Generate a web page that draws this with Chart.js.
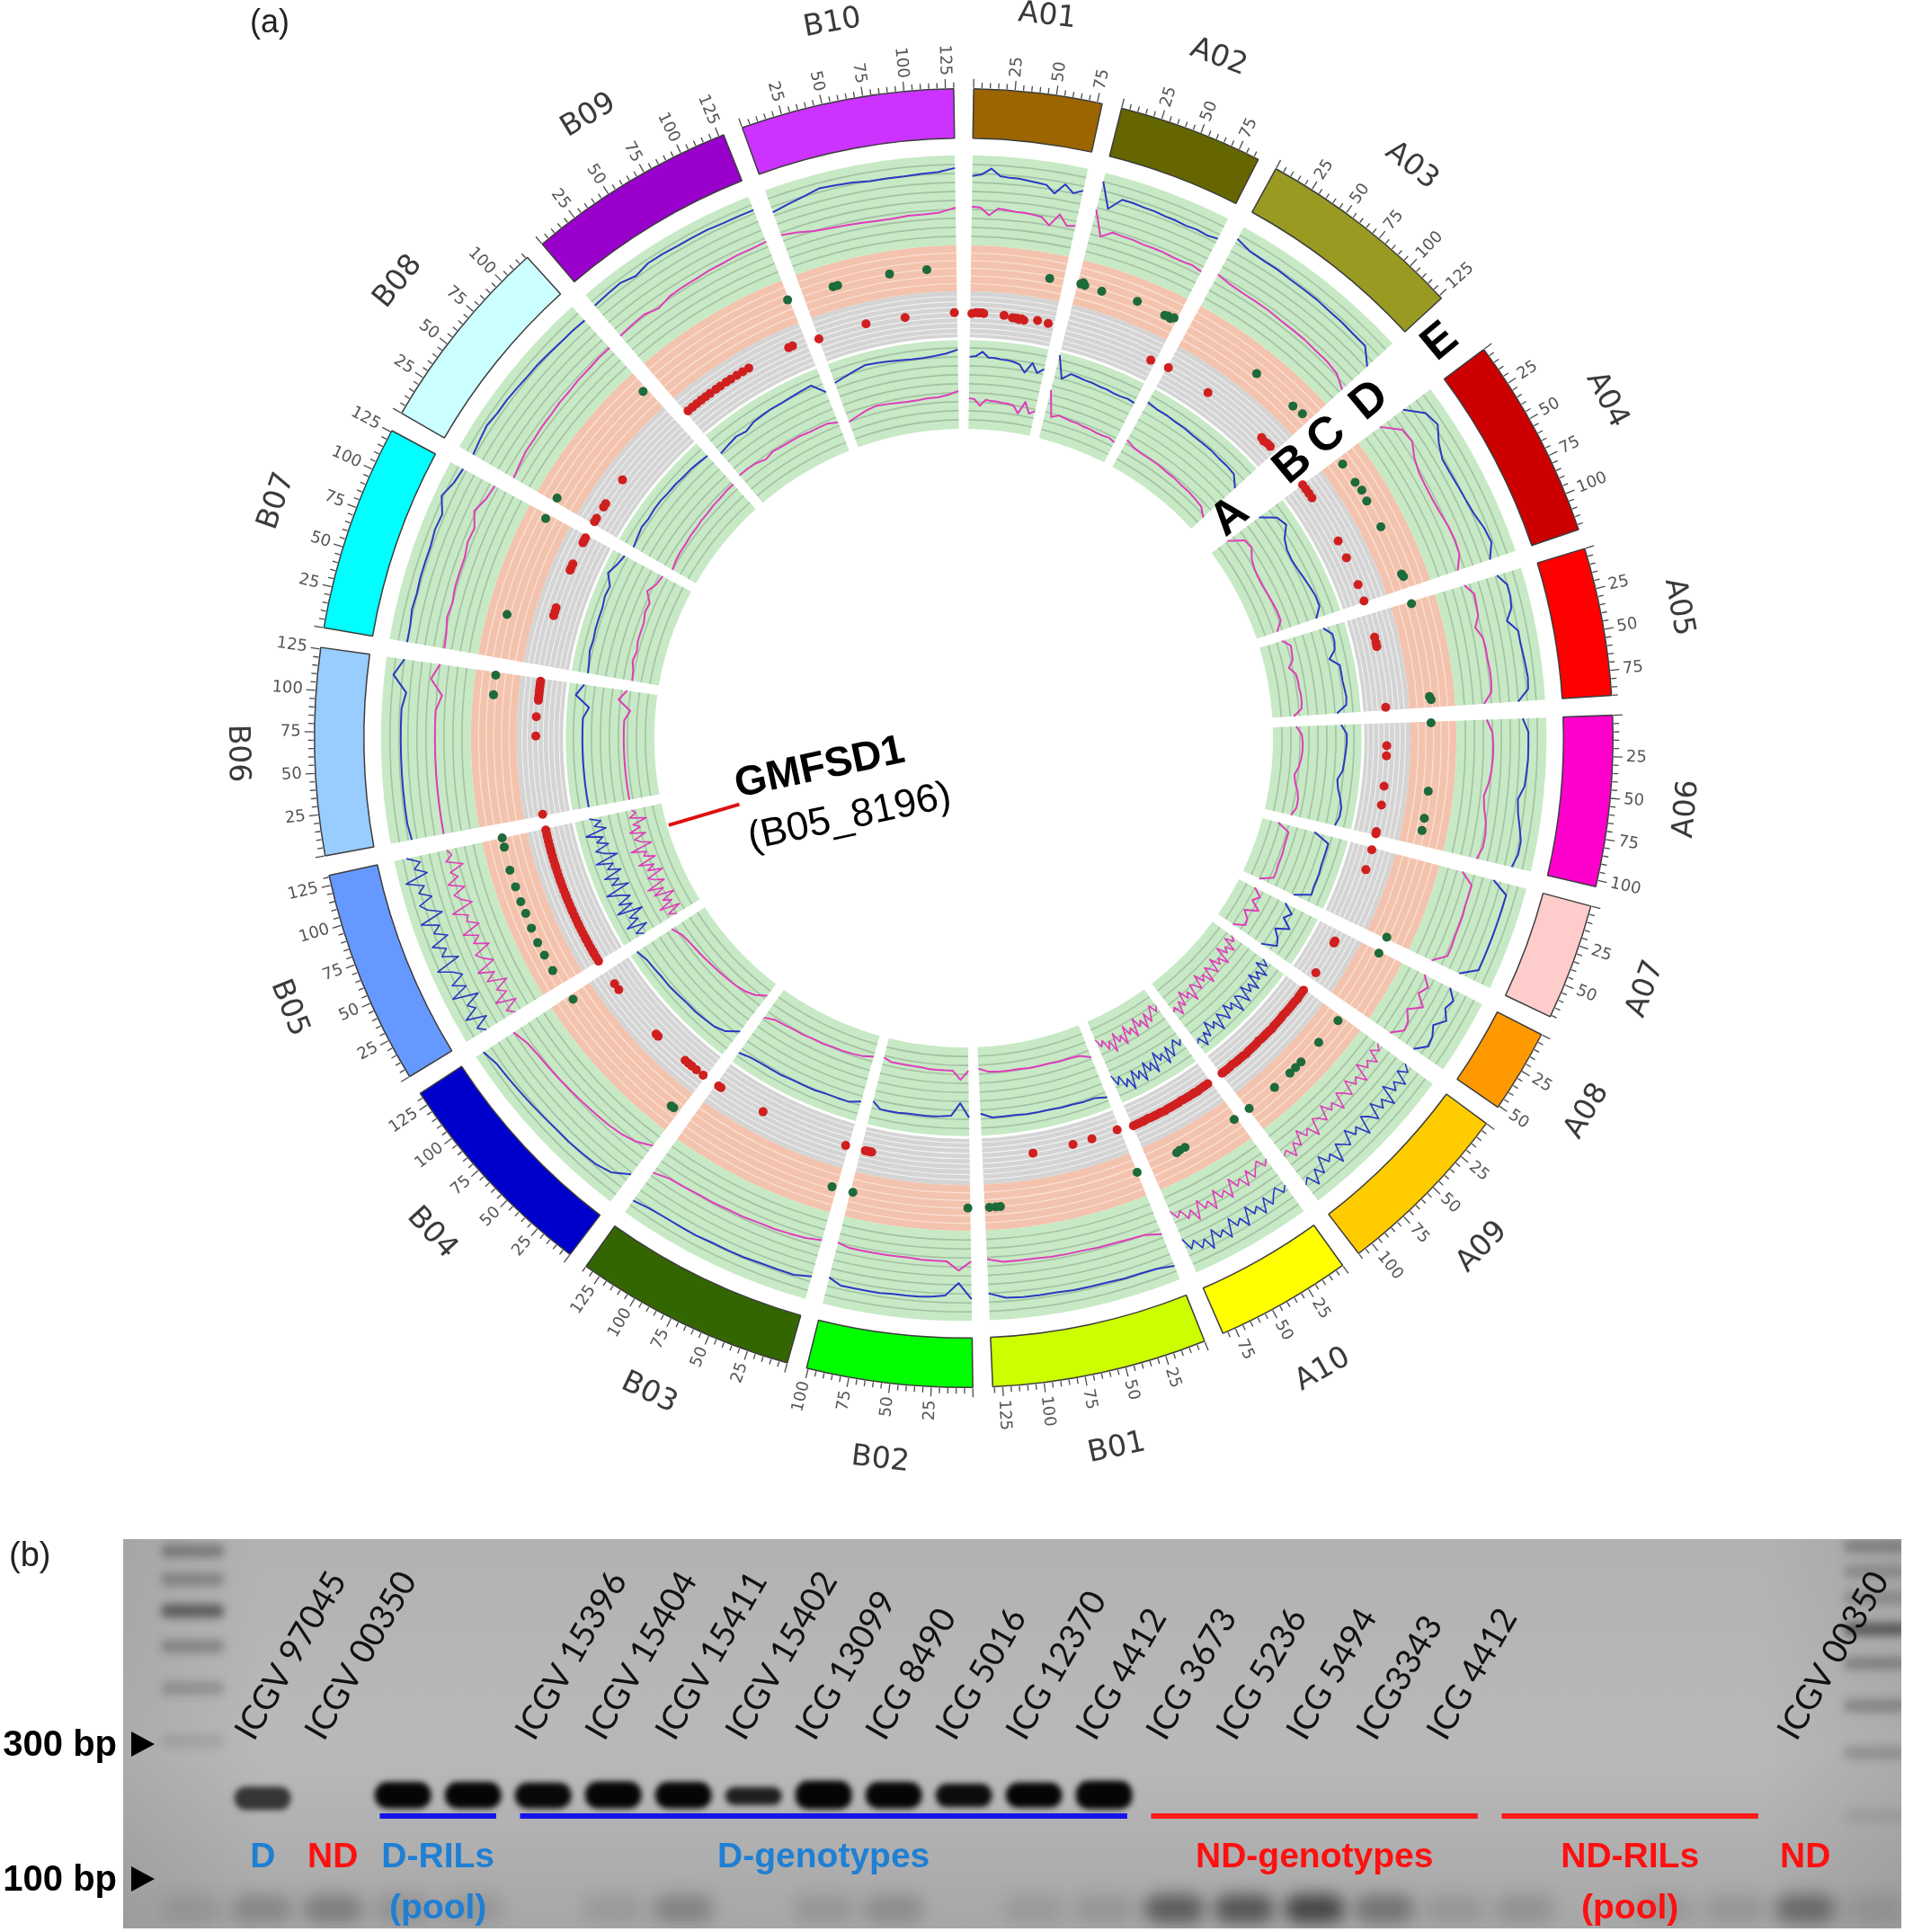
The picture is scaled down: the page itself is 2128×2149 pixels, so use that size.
<!DOCTYPE html>
<html lang="en">
<head>
<meta charset="UTF-8">
<title>Circos plot and gel</title>
<script src="https://cdn.jsdelivr.net/npm/chart.js@4.4.0/dist/chart.umd.min.js"></script>
<style>
  html, body { margin: 0; padding: 0; background: #fff; }
  #page { position: relative; width: 2128px; height: 2149px; }
  #circosBox { position: absolute; left: 0; top: 0; width: 2128px; height: 1700px; }
  #gelBox { position: absolute; left: 0; top: 1700px; width: 2128px; height: 449px; }
</style>
</head>
<body>
<div id="page">
  <div id="circosBox"><canvas id="circos"></canvas></div>
  <div id="gelBox"><canvas id="gel"></canvas></div>
</div>
<script>
// ---------- (a) circos data ----------
var chromNames = ['A01','A02','A03','A04','A05','A06','A07','A08','A09','A10','B01','B02','B03','B04','B05','B06','B07','B08','B09','B10'];
var chromLengths = [78, 88, 127, 123, 90, 104, 71, 51, 110, 83, 131, 101, 135, 133, 131, 126, 126, 121, 128, 130];
var chromColors = ['#9c6500','#666600','#999a22','#cc0000','#ff0000','#ff00cc','#ffcccc','#ff9900','#ffcc00','#ffff00',
                   '#ccff00','#00ff00','#336600','#0000cc','#6699ff','#99ccff','#00ffff','#ccffff','#9900cc','#cc33ff'];

// line tracks, value = fraction of the band height, windows spread along each chromosome
var outerBlue = {
  A01: [0.77,0.79,0.86,0.78,0.77,0.77,0.76,0.75,0.74,0.66,0.78,0.70,0.75],
  A02: [0.90,0.62,0.76,0.76,0.75,0.75,0.74,0.74,0.73,0.74,0.73,0.75],
  A03: [0.85,0.80,0.79,0.79,0.78,0.78,0.78,0.77,0.77,0.76,0.76,0.62],
  A04: [0.62,0.80,0.84,0.74,0.68,0.68,0.69,0.70,0.72,0.76,0.78,0.70],
  A05: [0.72,0.80,0.80,0.78,0.70,0.80,0.80,0.81,0.82,0.83,0.82,0.70],
  A06: [0.74,0.80,0.80,0.80,0.79,0.78,0.72,0.74,0.78,0.82,0.82,0.78],
  A07: [0.62,0.80,0.80,0.80,0.80,0.80,0.80,0.80,0.80,0.62],
  A08: [0.60,0.70,0.66,0.74,0.64,0.70,0.72,0.60],
  A09: [0.62,0.70,0.60,0.76,0.64,0.72,0.58,0.80,0.66,0.74,0.60,0.78,0.68,0.62,0.82,0.66,0.72,0.60,0.76,0.70,0.64,0.84,0.68,0.74,0.62,0.80,0.70,0.86,0.72,0.78],
  A10: [0.64,0.70,0.60,0.66,0.74,0.62,0.78,0.66,0.72,0.60,0.80,0.68,0.74,0.62,0.82,0.70,0.76,0.64,0.84,0.70,0.78,0.66,0.74,0.60],
  B01: [0.84,0.80,0.79,0.79,0.78,0.78,0.78,0.77,0.77,0.77,0.76,0.70],
  B02: [0.76,0.58,0.72,0.74,0.75,0.75,0.75,0.76,0.76,0.76,0.76,0.70],
  B03: [0.74,0.78,0.78,0.78,0.79,0.79,0.79,0.80,0.80,0.80,0.81,0.84],
  B04: [0.62,0.74,0.78,0.79,0.80,0.80,0.81,0.82,0.83,0.84,0.85,0.90],
  B05: [0.74,0.82,0.66,0.88,0.72,0.79,0.62,0.90,0.70,0.84,0.68,0.77,0.92,0.64,0.81,0.73,0.87,0.66,0.80,0.71,0.90,0.63,0.78,0.85,0.69,0.82,0.74,0.93,0.67,0.80,0.72,0.86],
  B06: [0.76,0.78,0.78,0.78,0.78,0.78,0.78,0.78,0.78,0.74,0.90,0.80],
  B07: [0.80,0.80,0.82,0.81,0.82,0.82,0.82,0.84,0.83,0.92,0.86,0.84],
  B08: [0.82,0.84,0.86,0.84,0.84,0.83,0.82,0.82,0.81,0.80,0.80,0.79],
  B09: [0.84,0.85,0.86,0.82,0.86,0.86,0.85,0.85,0.85,0.84,0.84,0.84],
  B10: [0.74,0.77,0.80,0.84,0.83,0.82,0.80,0.80,0.80,0.81,0.82,0.86]
};
var outerPink = {
  A01: [0.43,0.42,0.34,0.42,0.41,0.40,0.40,0.39,0.38,0.30,0.44,0.33,0.35],
  A02: [0.58,0.30,0.38,0.37,0.37,0.36,0.36,0.36,0.35,0.35,0.36,0.34],
  A03: [0.40,0.37,0.36,0.36,0.36,0.35,0.35,0.35,0.34,0.34,0.32,0.24],
  A04: [0.30,0.48,0.50,0.42,0.38,0.37,0.37,0.38,0.40,0.41,0.40,0.32],
  A05: [0.34,0.42,0.41,0.40,0.34,0.40,0.41,0.41,0.42,0.42,0.41,0.32],
  A06: [0.34,0.40,0.41,0.41,0.40,0.38,0.34,0.36,0.40,0.42,0.42,0.38],
  A07: [0.26,0.40,0.40,0.40,0.41,0.41,0.41,0.42,0.42,0.28],
  A08: [0.28,0.38,0.32,0.44,0.30,0.38,0.40,0.28],
  A09: [0.24,0.30,0.22,0.36,0.26,0.32,0.20,0.40,0.28,0.34,0.22,0.38,0.30,0.24,0.42,0.28,0.34,0.22,0.38,0.30,0.26,0.44,0.30,0.36,0.24,0.40,0.32,0.46,0.34,0.38],
  A10: [0.28,0.34,0.24,0.30,0.38,0.26,0.42,0.30,0.36,0.24,0.44,0.32,0.38,0.26,0.46,0.34,0.40,0.28,0.48,0.34,0.42,0.30,0.36,0.26],
  B01: [0.46,0.40,0.39,0.38,0.38,0.37,0.37,0.37,0.36,0.36,0.36,0.32],
  B02: [0.34,0.44,0.34,0.34,0.34,0.33,0.33,0.33,0.33,0.33,0.33,0.30],
  B03: [0.32,0.35,0.36,0.37,0.37,0.38,0.38,0.39,0.39,0.40,0.41,0.46],
  B04: [0.22,0.30,0.34,0.36,0.37,0.38,0.39,0.40,0.41,0.42,0.44,0.50],
  B05: [0.36,0.44,0.28,0.50,0.33,0.42,0.26,0.47,0.35,0.52,0.30,0.40,0.46,0.27,0.43,0.34,0.50,0.29,0.41,0.37,0.53,0.28,0.39,0.45,0.31,0.48,0.35,0.42,0.26,0.44,0.36,0.40],
  B06: [0.40,0.40,0.40,0.40,0.40,0.40,0.40,0.40,0.40,0.34,0.48,0.40],
  B07: [0.38,0.39,0.42,0.40,0.42,0.42,0.42,0.45,0.44,0.52,0.46,0.44],
  B08: [0.30,0.32,0.34,0.34,0.35,0.35,0.36,0.36,0.37,0.37,0.38,0.38],
  B09: [0.40,0.41,0.42,0.38,0.42,0.43,0.43,0.44,0.44,0.45,0.45,0.46],
  B10: [0.47,0.44,0.40,0.38,0.37,0.36,0.35,0.35,0.36,0.36,0.37,0.42]
};
var innerBlue = {
  A01: [0.80,0.81,0.86,0.80,0.80,0.79,0.79,0.78,0.76,0.68,0.80,0.70,0.76],
  A02: [0.95,0.70,0.78,0.77,0.76,0.76,0.75,0.75,0.74,0.74,0.75,0.74],
  A03: [0.82,0.80,0.80,0.79,0.79,0.78,0.78,0.78,0.77,0.77,0.76,0.66],
  A04: [0.66,0.82,0.86,0.76,0.72,0.71,0.72,0.74,0.76,0.78,0.78,0.70],
  A05: [0.74,0.82,0.82,0.80,0.72,0.82,0.82,0.82,0.83,0.84,0.83,0.72],
  A06: [0.76,0.82,0.82,0.81,0.80,0.79,0.74,0.76,0.80,0.83,0.83,0.80],
  A07: [0.60,0.78,0.78,0.78,0.78,0.79,0.79,0.79,0.80,0.62],
  A08: [0.58,0.70,0.64,0.76,0.62,0.70,0.74,0.58],
  A09: [0.70,0.78,0.66,0.84,0.72,0.80,0.68,0.86,0.74,0.82,0.70,0.88,0.76,0.72,0.90,0.74,0.80,0.70,0.86,0.78,0.72,0.90,0.76,0.82,0.70,0.86,0.78,0.92,0.80,0.84],
  A10: [0.68,0.74,0.64,0.70,0.80,0.66,0.84,0.70,0.76,0.64,0.86,0.72,0.80,0.68,0.88,0.74,0.82,0.70,0.90,0.76,0.84,0.70,0.78,0.66],
  B01: [0.86,0.82,0.82,0.81,0.81,0.80,0.80,0.80,0.79,0.79,0.79,0.74],
  B02: [0.78,0.62,0.76,0.77,0.78,0.78,0.78,0.78,0.79,0.79,0.79,0.72],
  B03: [0.76,0.80,0.80,0.80,0.81,0.81,0.81,0.82,0.82,0.82,0.83,0.86],
  B04: [0.66,0.76,0.80,0.81,0.82,0.82,0.83,0.84,0.84,0.85,0.86,0.90],
  B05: [0.72,0.80,0.64,0.86,0.70,0.78,0.60,0.88,0.68,0.82,0.66,0.76,0.90,0.62,0.80,0.70,0.85,0.64,0.78,0.70,0.88,0.62,0.76,0.84,0.68,0.80,0.72,0.90,0.66,0.78,0.70,0.82],
  B06: [0.80,0.80,0.80,0.80,0.80,0.80,0.80,0.80,0.80,0.74,0.90,0.82],
  B07: [0.80,0.81,0.83,0.82,0.83,0.83,0.83,0.85,0.84,0.92,0.87,0.84],
  B08: [0.80,0.82,0.84,0.83,0.84,0.84,0.83,0.83,0.82,0.82,0.81,0.80],
  B09: [0.72,0.74,0.76,0.74,0.78,0.79,0.80,0.80,0.81,0.82,0.83,0.70],
  B10: [0.76,0.79,0.82,0.85,0.84,0.83,0.82,0.81,0.81,0.82,0.84,0.88]
};
var innerPink = {
  A01: [0.34,0.33,0.26,0.33,0.32,0.32,0.31,0.31,0.30,0.22,0.36,0.24,0.28],
  A02: [0.55,0.26,0.30,0.29,0.28,0.28,0.27,0.27,0.26,0.26,0.27,0.25],
  A03: [0.34,0.30,0.29,0.29,0.29,0.28,0.28,0.27,0.27,0.26,0.25,0.18],
  A04: [0.22,0.38,0.40,0.33,0.30,0.29,0.29,0.30,0.31,0.32,0.32,0.24],
  A05: [0.26,0.34,0.33,0.32,0.26,0.32,0.33,0.33,0.34,0.34,0.33,0.24],
  A06: [0.26,0.32,0.33,0.33,0.32,0.30,0.26,0.28,0.32,0.34,0.34,0.30],
  A07: [0.18,0.32,0.32,0.32,0.33,0.33,0.33,0.34,0.34,0.20],
  A08: [0.20,0.30,0.24,0.36,0.22,0.30,0.32,0.20],
  A09: [0.26,0.32,0.22,0.38,0.28,0.34,0.22,0.42,0.30,0.36,0.24,0.40,0.32,0.26,0.44,0.30,0.36,0.24,0.40,0.32,0.28,0.46,0.32,0.38,0.26,0.42,0.34,0.48,0.36,0.40],
  A10: [0.22,0.28,0.18,0.26,0.34,0.22,0.38,0.26,0.32,0.20,0.40,0.28,0.34,0.22,0.42,0.30,0.36,0.24,0.44,0.30,0.38,0.26,0.32,0.22],
  B01: [0.38,0.32,0.31,0.31,0.30,0.30,0.30,0.29,0.29,0.29,0.28,0.24],
  B02: [0.26,0.36,0.26,0.26,0.26,0.26,0.25,0.25,0.25,0.25,0.25,0.22],
  B03: [0.24,0.27,0.28,0.29,0.29,0.30,0.30,0.31,0.31,0.32,0.33,0.38],
  B04: [0.16,0.24,0.28,0.30,0.31,0.32,0.33,0.34,0.35,0.36,0.38,0.44],
  B05: [0.30,0.38,0.22,0.44,0.27,0.36,0.20,0.42,0.29,0.46,0.24,0.34,0.40,0.21,0.37,0.28,0.44,0.23,0.35,0.31,0.47,0.22,0.33,0.39,0.25,0.42,0.29,0.36,0.20,0.38,0.30,0.34],
  B06: [0.34,0.34,0.34,0.34,0.34,0.34,0.34,0.34,0.34,0.28,0.42,0.34],
  B07: [0.30,0.31,0.34,0.32,0.34,0.34,0.34,0.37,0.36,0.44,0.38,0.36],
  B08: [0.30,0.32,0.33,0.33,0.34,0.34,0.35,0.35,0.36,0.36,0.37,0.37],
  B09: [0.40,0.40,0.39,0.36,0.39,0.38,0.38,0.38,0.37,0.37,0.37,0.34],
  B10: [0.30,0.33,0.36,0.38,0.37,0.36,0.35,0.35,0.36,0.36,0.38,0.42]
};

// dot tracks: [relative position along chromosome, value within band]
var greenDots = {
  A01: [[0.85,0.45]],
  A02: [[0.03,0.48],[0.05,0.52],[0.07,0.47],[0.24,0.45],[0.59,0.5],[0.88,0.46],[0.91,0.48],[0.94,0.45],[0.97,0.5]],
  A03: [[0.54,0.45],[0.86,0.45],[0.94,0.48]],
  A04: [[0.05,0.45],[0.2,0.45],[0.27,0.48],[0.35,0.45],[0.55,0.45],[0.9,0.45],[0.92,0.47]],
  A05: [[0.02,0.45],[0.9,0.45],[0.93,0.48]],
  A06: [[0.01,0.45],[0.56,0.45],[0.78,0.45],[0.88,0.45]],
  A07: [[0.98,0.45]],
  A08: [[0.03,0.45]],
  A09: [[0.04,0.48],[0.26,0.45],[0.46,0.45],[0.52,0.45],[0.58,0.45],[0.74,0.45],[0.99,0.45]],
  A10: [[0.03,0.45],[0.6,0.4],[0.66,0.4],[0.7,0.42]],
  B01: [[0.0,0.45],[0.9,0.5],[0.93,0.5],[0.97,0.5]],
  B02: [[0.02,0.5],[0.98,0.45]],
  B03: [[0.03,0.45]],
  B04: [[0.04,0.5],[0.06,0.5],[0.97,0.5]],
  B05: [[0.1,0.55],[0.21,0.55],[0.3,0.56],[0.4,0.55],[0.5,0.54],[0.58,0.55],[0.68,0.55],[0.79,0.56],[0.94,0.55],[1.0,0.55]],
  B06: [[0.85,0.55],[0.98,0.55]],
  B07: [[0.29,0.57],[0.97,0.55]],
  B08: [[0.03,0.55],[0.97,0.55]],
  B09: [[0.99,0.55]],
  B10: [[0.2,0.5],[0.23,0.5],[0.57,0.5],[0.81,0.5]]
};
var redDots = {
  A01: [[0.02,0.53],[0.07,0.55],[0.1,0.55],[0.12,0.55],[0.14,0.55],[0.16,0.54],[0.4,0.53],[0.5,0.5],[0.53,0.5],[0.56,0.5],[0.58,0.48],[0.61,0.5],[0.64,0.48],[0.8,0.52],[0.93,0.5]],
  A02: [[0.95,0.47]],
  A03: [[0.01,0.5],[0.35,0.5],[0.86,0.5],[0.89,0.48],[0.92,0.5],[0.95,0.5]],
  A04: [[0.0,0.5],[0.04,0.5],[0.08,0.5],[0.12,0.5],[0.5,0.5],[0.64,0.5],[0.86,0.5],[0.99,0.5]],
  A05: [[0.24,0.5],[0.3,0.5],[0.34,0.5],[0.97,0.5]],
  A06: [[0.2,0.5],[0.29,0.5],[0.56,0.5],[0.73,0.5],[0.97,0.5],[0.99,0.5]],
  A07: [[0.03,0.5],[0.3,0.5]],
  A08: [[0.2,0.5],[0.24,0.5],[0.87,0.5]],
  A09: [[0.01,0.5],[0.04,0.5],[0.07,0.5],[0.1,0.51],[0.13,0.5],[0.16,0.5],[0.19,0.5],[0.22,0.5],[0.25,0.5],[0.28,0.49],[0.31,0.5],[0.34,0.5],[0.37,0.5],[0.4,0.5],[0.43,0.51],[0.46,0.5],[0.49,0.5],[0.52,0.5],[0.55,0.5],[0.58,0.49],[0.61,0.5],[0.64,0.5],[0.67,0.5],[0.7,0.5],[0.73,0.51],[0.76,0.5],[0.79,0.5],[0.82,0.5],[0.85,0.5],[0.88,0.49],[0.91,0.5],[0.94,0.5],[0.97,0.5],[0.99,0.5]],
  A10: [[0.04,0.5],[0.08,0.5],[0.11,0.5],[0.15,0.5],[0.18,0.51],[0.22,0.5],[0.25,0.5],[0.29,0.5],[0.32,0.5],[0.36,0.5],[0.39,0.49],[0.43,0.5],[0.46,0.5],[0.5,0.5],[0.53,0.5],[0.57,0.5],[0.6,0.51],[0.64,0.5],[0.67,0.5],[0.71,0.5],[0.74,0.5],[0.78,0.5],[0.81,0.49],[0.85,0.5],[0.88,0.5],[0.92,0.5],[0.95,0.5],[0.99,0.5]],
  B01: [[0.02,0.45],[0.21,0.45],[0.35,0.45],[0.64,0.45]],
  B02: [[0.9,0.52],[0.92,0.52],[0.94,0.52],[0.96,0.52]],
  B03: [[0.02,0.52],[0.63,0.52],[0.96,0.55],[0.98,0.55]],
  B04: [[0.02,0.56],[0.08,0.56],[0.12,0.56],[0.15,0.56],[0.18,0.56],[0.43,0.58],[0.45,0.58],[0.85,0.58],[0.9,0.58]],
  B05: [[0.0,0.6],[0.03,0.6],[0.06,0.6],[0.08,0.6],[0.11,0.6],[0.14,0.6],[0.17,0.6],[0.19,0.6],[0.22,0.6],[0.25,0.6],[0.28,0.6],[0.3,0.6],[0.33,0.6],[0.36,0.6],[0.39,0.6],[0.41,0.6],[0.44,0.6],[0.47,0.6],[0.5,0.6],[0.52,0.6],[0.55,0.6],[0.58,0.6],[0.61,0.6],[0.63,0.6],[0.66,0.6],[0.69,0.6],[0.72,0.6],[0.74,0.6],[0.77,0.6],[0.8,0.6],[0.83,0.6],[0.85,0.6],[0.88,0.6],[0.91,0.6],[0.94,0.6],[0.96,0.6],[0.99,0.6]],
  B06: [[0.01,0.6],[0.58,0.6],[0.72,0.6],[0.84,0.58],[0.86,0.58],[0.88,0.58],[0.9,0.58],[0.92,0.58],[0.94,0.58],[0.96,0.58],[0.98,0.58]],
  B07: [[0.37,0.6],[0.4,0.6],[0.43,0.6],[0.72,0.6],[0.74,0.6],[0.77,0.6],[0.94,0.6],[0.96,0.6],[0.98,0.6]],
  B08: [[0.02,0.6],[0.05,0.6],[0.15,0.6],[0.18,0.6],[0.4,0.6]],
  B09: [[0.02,0.6],[0.06,0.6],[0.1,0.6],[0.14,0.6],[0.18,0.6],[0.22,0.6],[0.27,0.6],[0.31,0.6],[0.36,0.6],[0.4,0.6],[0.45,0.6],[0.5,0.6],[0.55,0.6],[0.87,0.6],[0.9,0.6]],
  B10: [[0.0,0.53],[0.35,0.55],[0.63,0.53],[0.98,0.55]]
};
var trackLetters = ['A', 'B', 'C', 'D', 'E'];
var markerChrom = 'B05', markerPos = 0.78, markerName = 'GMFSD1', markerId = '(B05_8196)';

// ---------- (b) gel data ----------
var laneLabels = ['', 'ICGV 97045', 'ICGV 00350', '', '', 'ICGV 15396', 'ICGV 15404', 'ICGV 15411', 'ICGV 15402',
                  'ICG 13099', 'ICG 8490', 'ICG 5016', 'ICG 12370', 'ICG 4412', 'ICG 3673', 'ICG 5236', 'ICG 5494',
                  'ICG3343', 'ICG 4412', '', '', '', '', 'ICGV 00350', ''];
var ampLane  = [1, 3, 4, 5, 6, 7, 8, 9, 10, 11, 12, 13];
var ampLow   = [176, 178, 178, 178, 178, 178, 183, 177, 178, 180, 179, 177];
var ampHigh  = [212, 220, 220, 219, 221, 220, 211, 222, 220, 217, 219, 222];
var ampShade = [0.72, 1, 1, 0.98, 1, 1, 0.85, 1, 1, 0.96, 1, 1];
var dimerLane  = [0, 1, 2, 3, 4, 6, 7, 9, 10, 12, 13, 14, 15, 16, 17, 18, 19, 21, 22, 23, 24];
var dimerShade = [0.1, 0.22, 0.28, 0.15, 0.12, 0.1, 0.25, 0.12, 0.18, 0.1, 0.12, 0.5, 0.55, 0.65, 0.35, 0.12, 0.15, 0.1, 0.12, 0.4, 0.1];
var ladderLeftBp = [1450, 1150, 890, 666, 473, 307];
var ladderLeftShade = [0.3, 0.26, 0.5, 0.26, 0.2, 0.1];
var ladderRightBp = [1507, 1227, 991, 767, 580, 411, 279, 167];
var ladderRightShade = [0.26, 0.2, 0.2, 0.5, 0.26, 0.24, 0.18, 0.08];
var groupNames = ['D', 'ND', 'D-RILs\n(pool)', 'D-genotypes', 'ND-genotypes', 'ND-RILs\n(pool)', 'ND'];
var groupFirst = [1, 2, 3, 5, 14, 19, 23];
var groupLast  = [1, 2, 4, 13, 18, 22, 23];
var groupDrought = [true, false, true, true, false, false, false];
var groupLine = [false, false, true, true, true, true, false];
var sizeMarkers = [300, 100];

// ---------- circos chart ----------
var GAP = 12, BIG_GAP = 40, EDGE_GAP = 6;
function ringSlices() {
  var d = [EDGE_GAP];
  chromLengths.forEach(function (len, i) {
    d.push(len);
    if (i < chromLengths.length - 1) d.push(i === 2 ? BIG_GAP : GAP);
  });
  d.push(EDGE_GAP);
  return d;
}
function ringColors(fill) {
  var c = ['rgba(0,0,0,0)'];
  chromNames.forEach(function (n, i) {
    c.push(typeof fill === 'string' ? fill : fill[i]);
    c.push('rgba(0,0,0,0)');
  });
  return c;
}
function ring(fill, weight, border) {
  return {
    data: ringSlices(),
    backgroundColor: ringColors(fill),
    weight: weight,
    borderColor: '#3c3c3c',
    borderWidth: function (c) { return border && c.dataIndex % 2 === 1 ? 1.5 : 0; }
  };
}

var BLUE = '#2b38c2', PINK = '#e03cbc', RED = '#d01f1f', DGREEN = '#1d6a3a';

var circosDecor = {
  id: 'circosDecor',
  afterDatasetsDraw: function (chart) {
    var ctx = chart.ctx;
    function seg(ds, i) { return chart.getDatasetMeta(ds).data[1 + 2 * i]; }
    function ang(el, f) { return el.startAngle + f * (el.endAngle - el.startAngle); }
    function rad(el, v) { return el.innerRadius + v * (el.outerRadius - el.innerRadius); }
    function xy(el, a, r) { return [el.x + r * Math.cos(a), el.y + r * Math.sin(a)]; }
    function track(el, vals, color, w) {
      if (!vals) return;
      ctx.beginPath();
      vals.forEach(function (v, k) {
        var p = xy(el, ang(el, k / (vals.length - 1)), rad(el, v));
        if (k) ctx.lineTo(p[0], p[1]); else ctx.moveTo(p[0], p[1]);
      });
      ctx.strokeStyle = color; ctx.lineWidth = w; ctx.lineJoin = 'round'; ctx.stroke();
    }
    function dots(el, list, color) {
      if (!list) return;
      ctx.fillStyle = color;
      list.forEach(function (d) {
        var p = xy(el, ang(el, d[0]), rad(el, d[1]));
        ctx.beginPath(); ctx.arc(p[0], p[1], 5, 0, Math.PI * 2); ctx.fill();
      });
    }

    ctx.save();
    chromNames.forEach(function (name, i) {
      [[2, 10, 'rgba(120,135,120,0.42)', 1.6], [3, 6, 'rgba(255,232,222,0.75)', 1.4],
       [4, 9, 'rgba(248,248,248,0.8)', 1.2], [5, 10, 'rgba(120,135,120,0.42)', 1.6]].forEach(function (s) {
        var el = seg(s[0], i);
        ctx.strokeStyle = s[2]; ctx.lineWidth = s[3];
        for (var j = 1; j < s[1]; j++) {
          ctx.beginPath(); ctx.arc(el.x, el.y, rad(el, j / s[1]), el.startAngle, el.endAngle); ctx.stroke();
        }
      });
      var g = seg(4, i);
      ctx.strokeStyle = '#ffffff'; ctx.lineWidth = 3;
      ctx.beginPath(); ctx.arc(g.x, g.y, g.innerRadius, g.startAngle, g.endAngle); ctx.stroke();

      var dense = outerBlue[name].length > 20 ? 1.6 : 2;
      track(seg(2, i), outerPink[name], PINK, dense);
      track(seg(2, i), outerBlue[name], BLUE, dense);
      track(seg(5, i), innerPink[name], PINK, dense);
      track(seg(5, i), innerBlue[name], BLUE, dense);
      dots(seg(3, i), greenDots[name], DGREEN);
      dots(seg(4, i), redDots[name], RED);

      // ideogram ticks and labels
      var id = seg(0, i), len = chromLengths[i];
      ctx.strokeStyle = '#4a4a4a'; ctx.lineWidth = 1.3;
      ctx.fillStyle = '#555'; ctx.font = '18px "DejaVu Sans"'; ctx.textBaseline = 'middle';
      for (var m = 0; m <= len; m += 5) {
        var a = ang(id, m / len), major = m % 25 === 0;
        var p0 = xy(id, a, id.outerRadius + 1), p1 = xy(id, a, id.outerRadius + (major ? 11 : 7));
        ctx.beginPath(); ctx.moveTo(p0[0], p0[1]); ctx.lineTo(p1[0], p1[1]); ctx.stroke();
        if (major && m > 0) {
          var deg = ((a + Math.PI / 2) * 180 / Math.PI + 360) % 360;
          var pl = xy(id, a, id.outerRadius + 15);
          ctx.save(); ctx.translate(pl[0], pl[1]);
          if (deg < 180) { ctx.rotate(a); ctx.textAlign = 'left'; }
          else { ctx.rotate(a + Math.PI); ctx.textAlign = 'right'; }
          ctx.fillText(String(m), 0, 0);
          ctx.restore();
        }
      }
      var am = ang(id, 0.5), dm = ((am + Math.PI / 2) * 180 / Math.PI + 360) % 360;
      var pn = xy(id, am, id.outerRadius + 86);
      ctx.save(); ctx.translate(pn[0], pn[1]);
      ctx.rotate(dm > 90 && dm < 270 ? am - Math.PI / 2 : am + Math.PI / 2);
      ctx.font = '33px "DejaVu Sans"'; ctx.fillStyle = '#3a3a3a'; ctx.textAlign = 'center';
      ctx.fillText(name, 0, 0);
      ctx.restore();
    });

    // track letters in the wide gap between A03 and A04
    var e3 = seg(0, 2), e4 = seg(0, 3);
    var ga = (e3.endAngle + e4.startAngle) / 2;
    var letterR = [rad(seg(5, 0), 0.41), rad(seg(4, 0), 0.6), rad(seg(3, 0), 0.55), rad(seg(2, 0), 0.39), rad(seg(0, 0), 0.4)];
    ctx.font = 'bold 52px "Liberation Sans"'; ctx.fillStyle = '#000'; ctx.textAlign = 'center'; ctx.textBaseline = 'middle';
    trackLetters.forEach(function (t, k) {
      var p = [e3.x + letterR[k] * Math.cos(ga), e3.y + letterR[k] * Math.sin(ga)];
      ctx.save(); ctx.translate(p[0], p[1]); ctx.rotate(ga); ctx.fillText(t, 0, 0); ctx.restore();
    });

    // marker pointer
    var mi = chromNames.indexOf(markerChrom), inner = seg(5, mi);
    var ma = ang(inner, markerPos);
    var s0 = xy(inner, ma, inner.innerRadius - 2), s1 = xy(inner, ma, inner.innerRadius - 84);
    ctx.strokeStyle = '#e01010'; ctx.lineWidth = 4;
    ctx.beginPath(); ctx.moveTo(s0[0], s0[1]); ctx.lineTo(s1[0], s1[1]); ctx.stroke();
    ctx.save(); ctx.translate(s1[0], s1[1]); ctx.rotate(-12 * Math.PI / 180);
    ctx.textAlign = 'left'; ctx.textBaseline = 'alphabetic'; ctx.fillStyle = '#000';
    ctx.font = 'bold 46px "Liberation Sans"'; ctx.fillText(markerName, 0, -8);
    ctx.font = '44px "Liberation Sans"'; ctx.fillText(markerId, 2, 52);
    ctx.restore();

    ctx.font = '36px "Liberation Sans"'; ctx.fillStyle = '#222'; ctx.textAlign = 'left'; ctx.textBaseline = 'alphabetic';
    ctx.fillText('(a)', 278, 36);
    ctx.restore();
  }
};

new Chart(document.getElementById('circos'), {
  type: 'doughnut',
  data: {
    labels: ringSlices().map(function (v, k) { return k % 2 ? chromNames[(k - 1) / 2] : ''; }),
    datasets: [
      ring(chromColors, 55, true),
      ring('rgba(0,0,0,0)', 19, false),
      ring('#c7e9c5', 100, false),
      ring('#f3c3ad', 51, false),
      ring('#d4d4d4', 53, false),
      ring('#c7e9c5', 100, false)
    ]
  },
  options: {
    responsive: true,
    maintainAspectRatio: false,
    animation: false,
    events: [],
    cutout: '47.65%',
    layout: { padding: { left: 349, right: 333, top: 98, bottom: 156 } },
    plugins: { legend: { display: false }, tooltip: { enabled: false } }
  },
  plugins: [circosDecor]
});

// ---------- gel chart ----------
function shade(s) { return 'rgba(18,18,18,' + s + ')'; }

var gelDecor = {
  id: 'gelDecor',
  beforeDraw: function (chart) {
    var ctx = chart.ctx, a = chart.chartArea;
    var g = ctx.createLinearGradient(0, a.top, 0, a.bottom);
    g.addColorStop(0, '#b2b2b2'); g.addColorStop(0.55, '#b9b9b9'); g.addColorStop(1, '#a7a7a7');
    ctx.fillStyle = g; ctx.fillRect(a.left, a.top, a.right - a.left, a.bottom - a.top);
    var h = ctx.createLinearGradient(a.left, 0, a.right, 0);
    h.addColorStop(0, 'rgba(0,0,0,0.07)'); h.addColorStop(0.08, 'rgba(0,0,0,0)');
    h.addColorStop(0.92, 'rgba(0,0,0,0)'); h.addColorStop(1, 'rgba(0,0,0,0.07)');
    ctx.fillStyle = h; ctx.fillRect(a.left, a.top, a.right - a.left, a.bottom - a.top);
  },
  beforeDatasetDraw: function (chart, args) {
    chart.ctx.save();
    chart.ctx.filter = 'blur(' + (chart.data.datasets[args.index].blur || 0) + 'px)';
  },
  afterDatasetDraw: function (chart) { chart.ctx.restore(); },
  afterDraw: function (chart) {
    var ctx = chart.ctx, xs = chart.scales.x, ys = chart.scales.y;
    ctx.save();
    // lane names
    ctx.font = '38px Lato'; ctx.fillStyle = '#111'; ctx.textAlign = 'left'; ctx.textBaseline = 'alphabetic';
    var y300 = ys.getPixelForValue(300);
    laneLabels.forEach(function (t, i) {
      if (!t) return;
      ctx.save(); ctx.translate(xs.getPixelForValue(i) - 10, y300 - 2);
      ctx.rotate(-60 * Math.PI / 180); ctx.fillText(t, 0, 0); ctx.restore();
    });
    // group underlines and names
    groupNames.forEach(function (t, k) {
      var col = groupDrought[k] ? '#1f7fd3' : '#ff1010';
      var x0 = xs.getPixelForValue(groupFirst[k] - 0.33), x1 = xs.getPixelForValue(groupLast[k] + 0.33);
      if (groupLine[k]) {
        ctx.strokeStyle = groupDrought[k] ? '#1414f0' : '#ff1a1a'; ctx.lineWidth = 6;
        var yl = ys.getPixelForValue(167);
        ctx.beginPath(); ctx.moveTo(x0, yl); ctx.lineTo(x1, yl); ctx.stroke();
      }
      ctx.fillStyle = col; ctx.font = 'bold 39px "Liberation Sans"'; ctx.textAlign = 'center'; ctx.textBaseline = 'middle';
      var xc = (x0 + x1) / 2;
      t.split('\n').forEach(function (line, j) {
        ctx.fillText(line, xc, ys.getPixelForValue(j ? 78.5 : 119));
      });
    });
    // size markers
    ctx.fillStyle = '#000'; ctx.font = 'bold 40px "Liberation Sans"'; ctx.textAlign = 'right'; ctx.textBaseline = 'middle';
    sizeMarkers.forEach(function (bp) {
      var y = ys.getPixelForValue(bp);
      ctx.fillText(bp + ' bp', 130, y + 2);
      ctx.beginPath(); ctx.moveTo(146, y - 14); ctx.lineTo(172, y); ctx.lineTo(146, y + 14); ctx.closePath(); ctx.fill();
    });
    ctx.font = '38px "Liberation Sans"'; ctx.fillStyle = '#222'; ctx.textAlign = 'left'; ctx.textBaseline = 'alphabetic';
    ctx.fillText('(b)', 10, 42);
    ctx.restore();
  }
};

new Chart(document.getElementById('gel'), {
  type: 'bar',
  data: {
    datasets: [
      { label: 'primer dimers', blur: 9, barThickness: 66, borderRadius: 20,
        data: dimerLane.map(function (l) { return { x: l, y: [70, 88] }; }),
        backgroundColor: dimerShade.map(shade) },
      { label: 'ladder left', blur: 5, barThickness: 70, borderRadius: 8,
        data: ladderLeftBp.map(function (bp) { return { x: 0, y: [bp / 1.055, bp * 1.055] }; }),
        backgroundColor: ladderLeftShade.map(shade) },
      { label: 'ladder right', blur: 5, barThickness: 70, borderRadius: 8,
        data: ladderRightBp.map(function (bp) { return { x: 24, y: [bp / 1.055, bp * 1.055] }; }),
        backgroundColor: ladderRightShade.map(shade) },
      { label: 'amplicon', blur: 3, barThickness: 62, borderRadius: 14,
        data: ampLane.map(function (l, k) { return { x: l, y: [ampLow[k], ampHigh[k]] }; }),
        backgroundColor: ampShade.map(function (s) { return 'rgba(5,5,5,' + s + ')'; }) }
    ]
  },
  options: {
    responsive: true,
    maintainAspectRatio: false,
    animation: false,
    events: [],
    layout: { padding: { left: 137, right: 13, top: 12, bottom: 4 } },
    datasets: { bar: { grouped: false, borderSkipped: false } },
    scales: {
      x: { type: 'linear', min: -0.99, max: 24.37, offset: false, display: false },
      y: { type: 'logarithmic', min: 66.8, max: 1597, display: false }
    },
    plugins: { legend: { display: false }, tooltip: { enabled: false } }
  },
  plugins: [gelDecor]
});
</script>
</body>
</html>
